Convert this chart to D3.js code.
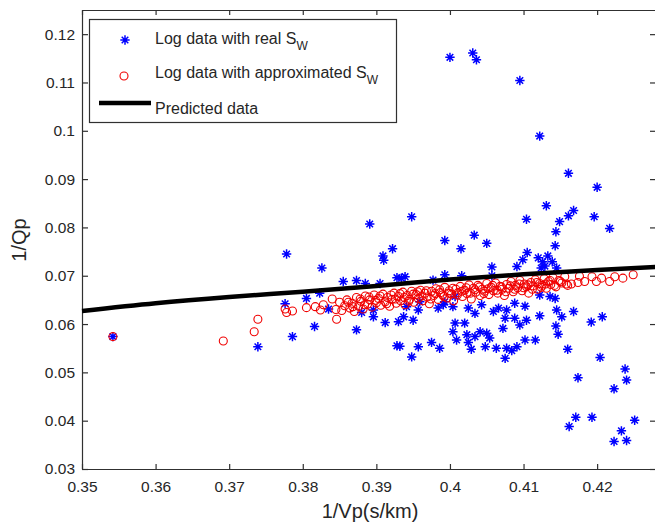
<!DOCTYPE html>
<html>
<head>
<meta charset="utf-8">
<title>1/Qp vs 1/Vp</title>
<script src="https://cdn.jsdelivr.net/npm/d3@7"></script>
<style>
  body { margin: 0; background: #fff; }
  svg { display: block; font-family: "Liberation Sans", Arial, sans-serif; }
  .axis text { fill: #262626; font-size: 15.5px; }
  .axis path, .axis line { stroke: #303030; stroke-width: 1.2; }
</style>
</head>
<body>
<div id="chart"></div>
<script>
// tick values + labels
var xTicks = [0.35, 0.36, 0.37, 0.38, 0.39, 0.40, 0.41, 0.42];
var xTickLabels = ["0.35", "0.36", "0.37", "0.38", "0.39", "0.4", "0.41", "0.42"];
var yTicks = [0.03, 0.04, 0.05, 0.06, 0.07, 0.08, 0.09, 0.10, 0.11, 0.12];
var yTickLabels = ["0.03", "0.04", "0.05", "0.06", "0.07", "0.08", "0.09", "0.1", "0.11", "0.12"];

var seriesNames = ["Log data with real S", "Log data with approximated S", "Predicted data"];

// log data with real Sw (blue stars)
var realX = [0.3542, 0.3739, 0.3776, 0.3778, 0.3786, 0.3805, 0.3816, 0.3823, 0.3826, 0.3835,
  0.3855, 0.3873, 0.3873, 0.3880, 0.3885, 0.3891, 0.3896, 0.3896, 0.3905, 0.3909,
  0.3910, 0.3912, 0.3922, 0.3928, 0.3928, 0.3930, 0.3932, 0.3934, 0.3937, 0.3939,
  0.3941, 0.3948, 0.3948, 0.3950, 0.3957, 0.3957, 0.3959, 0.3975, 0.3977, 0.3984,
  0.3986, 0.3991, 0.3993, 0.3993, 0.3993, 0.4000, 0.4004, 0.4004, 0.4007, 0.4007,
  0.4009, 0.4015, 0.4016, 0.4020, 0.4023, 0.4025, 0.4025, 0.4029, 0.4031, 0.4033,
  0.4034, 0.4034, 0.4036, 0.4041, 0.4043, 0.4048, 0.4050, 0.4050, 0.4054, 0.4057,
  0.4057, 0.4059, 0.4063, 0.4066, 0.4072, 0.4075, 0.4075, 0.4077, 0.4077, 0.4084,
  0.4088, 0.4088, 0.4091, 0.4091, 0.4095, 0.4095, 0.4099, 0.4102, 0.4102, 0.4104,
  0.4104, 0.4105, 0.4116, 0.4120, 0.4122, 0.4122, 0.4122, 0.4124, 0.4126, 0.4129,
  0.4131, 0.4133, 0.4136, 0.4139, 0.4143, 0.4143, 0.4144, 0.4144, 0.4145, 0.4145,
  0.4147, 0.4149, 0.4152, 0.4160, 0.4161, 0.4161, 0.4162, 0.4168, 0.4168, 0.4171,
  0.4174, 0.4192, 0.4193, 0.4196, 0.4200, 0.4204, 0.4207, 0.4217, 0.4223, 0.4223,
  0.4233, 0.4238, 0.4240, 0.4240, 0.4251];
var realY = [0.0574, 0.0553, 0.0642, 0.0745, 0.0574, 0.0653, 0.0595, 0.0664, 0.0716, 0.0631,
  0.0688, 0.0690, 0.0588, 0.0624, 0.0684, 0.0807, 0.0615, 0.0629, 0.0684, 0.0741,
  0.0732, 0.0603, 0.0756, 0.0696, 0.0555, 0.0605, 0.0554, 0.0695, 0.0615, 0.0698,
  0.0636, 0.0822, 0.0532, 0.0608, 0.0629, 0.0553, 0.0646, 0.0562, 0.0691, 0.0633,
  0.0550, 0.0640, 0.0773, 0.0702, 0.0646, 0.1152, 0.0636, 0.0584, 0.0602, 0.0657,
  0.0567, 0.0756, 0.0700, 0.0602, 0.0578, 0.0633, 0.0562, 0.0548, 0.1161, 0.0784,
  0.0622, 0.0574, 0.1147, 0.0584, 0.0640, 0.0553, 0.0767, 0.0581, 0.0571, 0.0718,
  0.0700, 0.0626, 0.0550, 0.0633, 0.0591, 0.0612, 0.0529, 0.0629, 0.0550, 0.0545,
  0.0643, 0.0612, 0.0553, 0.0719, 0.1104, 0.0598, 0.0733, 0.0637, 0.0567, 0.0817,
  0.0608, 0.0748, 0.0567, 0.0737, 0.0989, 0.0660, 0.0617, 0.0716, 0.0729, 0.0720,
  0.0845, 0.0741, 0.0657, 0.0729, 0.0762, 0.0653, 0.0596, 0.0791, 0.0716, 0.0629,
  0.0579, 0.0812, 0.0615, 0.0548, 0.0912, 0.0824, 0.0388, 0.0835, 0.0626, 0.0407,
  0.0489, 0.0604, 0.0407, 0.0822, 0.0883, 0.0531, 0.0615, 0.0798, 0.0466, 0.0357,
  0.0379, 0.0507, 0.0484, 0.0359, 0.0401];

// log data with approximated Sw (red circles)
var approxX = [0.3542, 0.3692, 0.3734, 0.3739, 0.3776, 0.3778, 0.3786, 0.3805, 0.3817, 0.3824,
  0.3828, 0.3846, 0.3840, 0.3845, 0.3850, 0.3853, 0.3857, 0.3860, 0.3864, 0.3867,
  0.3870, 0.3873, 0.3876, 0.3879, 0.3882, 0.3885, 0.3888, 0.3891, 0.3894, 0.3897,
  0.3900, 0.3903, 0.3906, 0.3909, 0.3912, 0.3915, 0.3918, 0.3921, 0.3924, 0.3927,
  0.3930, 0.3933, 0.3936, 0.3939, 0.3942, 0.3945, 0.3948, 0.3951, 0.3954, 0.3957,
  0.3960, 0.3963, 0.3966, 0.3969, 0.3972, 0.3975, 0.3978, 0.3981, 0.3984, 0.3987,
  0.3990, 0.3993, 0.3996, 0.3999, 0.4002, 0.4005, 0.4008, 0.4011, 0.4014, 0.4017,
  0.4020, 0.4023, 0.4026, 0.4029, 0.4032, 0.4035, 0.4038, 0.4041, 0.4044, 0.4047,
  0.4050, 0.4053, 0.4056, 0.4059, 0.4062, 0.4065, 0.4068, 0.4071, 0.4074, 0.4077,
  0.4080, 0.4083, 0.4086, 0.4089, 0.4092, 0.4095, 0.4098, 0.4101, 0.4104, 0.4107,
  0.4110, 0.4113, 0.4116, 0.4119, 0.4122, 0.4125, 0.4128, 0.4131, 0.4134, 0.4137,
  0.4140, 0.4144, 0.4148, 0.4152, 0.4156, 0.4160, 0.4165, 0.4174, 0.4176, 0.4183,
  0.4193, 0.4199, 0.4206, 0.4217, 0.4224, 0.4235, 0.4249,
  0.3862, 0.3868, 0.3878, 0.3884, 0.3890, 0.3899, 0.3905, 0.3914, 0.3920, 0.3926,
  0.3932, 0.3938, 0.3944, 0.3950, 0.3956, 0.3962, 0.3968, 0.3974, 0.3980, 0.3986,
  0.3992, 0.3998, 0.4004, 0.4010, 0.4016, 0.4022, 0.4028, 0.4034, 0.4040, 0.4046,
  0.4052, 0.4058, 0.4064, 0.4070, 0.4076, 0.4082, 0.4088, 0.4094, 0.4100, 0.4106,
  0.4112, 0.4118, 0.4124, 0.4130, 0.4136, 0.4142, 0.4150, 0.4158];
var approxY = [0.0574, 0.0565, 0.0584, 0.0610, 0.0631, 0.0624, 0.0627, 0.0634, 0.0636, 0.0629,
  0.0640, 0.0610, 0.0652, 0.0630, 0.0645, 0.0628, 0.0638, 0.0650, 0.0633, 0.0643,
  0.0626, 0.0655, 0.0637, 0.0647, 0.0631, 0.0658, 0.0641, 0.0650, 0.0635, 0.0660,
  0.0644, 0.0653, 0.0639, 0.0662, 0.0646, 0.0655, 0.0637, 0.0651, 0.0664, 0.0643,
  0.0657, 0.0648, 0.0666, 0.0640, 0.0659, 0.0651, 0.0668, 0.0645, 0.0661, 0.0653,
  0.0670, 0.0648, 0.0664, 0.0656, 0.0642, 0.0668, 0.0659, 0.0673, 0.0651, 0.0665,
  0.0660, 0.0676, 0.0654, 0.0669, 0.0662, 0.0648, 0.0672, 0.0665, 0.0678, 0.0657,
  0.0670, 0.0663, 0.0681, 0.0652, 0.0674, 0.0666, 0.0680, 0.0659, 0.0672, 0.0668,
  0.0684, 0.0661, 0.0676, 0.0669, 0.0685, 0.0664, 0.0678, 0.0672, 0.0659, 0.0682,
  0.0674, 0.0688, 0.0667, 0.0680, 0.0675, 0.0690, 0.0669, 0.0683, 0.0677, 0.0664,
  0.0686, 0.0679, 0.0692, 0.0672, 0.0684, 0.0680, 0.0694, 0.0674, 0.0688, 0.0682,
  0.0696, 0.0677, 0.0690, 0.0685, 0.0698, 0.0680, 0.0683, 0.0686, 0.0699, 0.0688,
  0.0698, 0.0688, 0.0695, 0.0688, 0.0698, 0.0695, 0.0702,
  0.0645, 0.0636, 0.0652, 0.0640, 0.0656, 0.0649, 0.0658, 0.0642, 0.0660, 0.0652,
  0.0663, 0.0655, 0.0647, 0.0662, 0.0667, 0.0658, 0.0669, 0.0652, 0.0663, 0.0671,
  0.0657, 0.0664, 0.0674, 0.0660, 0.0668, 0.0675, 0.0664, 0.0671, 0.0677, 0.0663,
  0.0673, 0.0680, 0.0670, 0.0677, 0.0667, 0.0679, 0.0672, 0.0683, 0.0675, 0.0681,
  0.0672, 0.0686, 0.0676, 0.0683, 0.0690, 0.0680, 0.0688, 0.0683];

// predicted curve
var predX = [0.35, 0.36, 0.37, 0.38, 0.39, 0.40, 0.41, 0.42, 0.43];
var predY = [0.0627, 0.0643, 0.0656, 0.0667, 0.0679, 0.0692, 0.0703, 0.0712, 0.0720];

var width = 655, height = 529;
// plot box edges (top is a reserved window prop, so prefix these)
var pLeft = 82, pRight = 656, pTop = 10, pBottom = 469;

var svg = d3.select("#chart").append("svg")
    .attr("width", width)
    .attr("height", height);

svg.append("rect").attr("width", width).attr("height", height).attr("fill", "#fff");

var x = d3.scaleLinear().domain([0.35, 0.428]).range([pLeft, pRight]);
var y = d3.scaleLinear().domain([0.03, 0.125]).range([pBottom, pTop]);

// axes, ticks pointing in
svg.append("g")
    .attr("class", "axis")
    .attr("transform", "translate(0," + pBottom + ")")
    .call(d3.axisBottom(x).tickValues(xTicks).tickSizeInner(-5).tickSizeOuter(0).tickPadding(12)
      .tickFormat(function(d, i) { return xTickLabels[i]; }));

svg.append("g")
    .attr("class", "axis")
    .attr("transform", "translate(0," + pTop + ")")
    .call(d3.axisTop(x).tickValues(xTicks).tickSizeInner(-5).tickSizeOuter(0).tickFormat(""));

svg.append("g")
    .attr("class", "axis")
    .attr("transform", "translate(" + pLeft + ",0)")
    .call(d3.axisLeft(y).tickValues(yTicks).tickSizeInner(-6).tickSizeOuter(0).tickPadding(7)
      .tickFormat(function(d, i) { return yTickLabels[i]; }));

svg.append("g")
    .attr("class", "axis")
    .attr("transform", "translate(" + pRight + ",0)")
    .call(d3.axisRight(y).tickValues(yTicks).tickSizeInner(-6).tickSizeOuter(0).tickFormat(""));

svg.selectAll(".axis .domain").attr("stroke", "#303030");

// star marker like matlab '*'
var star = "M-4.7,0H4.7M0,-4.7V4.7M-3.3,-3.3L3.3,3.3M-3.3,3.3L3.3,-3.3";

var plot = svg.append("g");

plot.selectAll(".star")
    .data(realX)
  .enter().append("path")
    .attr("class", "star")
    .attr("d", star)
    .attr("transform", function(d, i) { return "translate(" + x(d) + "," + y(realY[i]) + ")"; })
    .attr("stroke", "#0000ff")
    .attr("stroke-width", 1.5)
    .attr("fill", "none");

plot.selectAll(".circ")
    .data(approxX)
  .enter().append("circle")
    .attr("class", "circ")
    .attr("cx", function(d) { return x(d); })
    .attr("cy", function(d, i) { return y(approxY[i]); })
    .attr("r", 4)
    .attr("stroke", "#f00000")
    .attr("stroke-width", 1.1)
    .attr("fill", "none");

var line = d3.line()
    .x(function(d) { return x(d); })
    .y(function(d, i) { return y(predY[i]); })
    .curve(d3.curveMonotoneX);

plot.append("path")
    .attr("d", line(predX))
    .attr("fill", "none")
    .attr("stroke", "#000")
    .attr("stroke-width", 4.5);

// axis labels
svg.append("text")
    .attr("x", 370)
    .attr("y", 518)
    .attr("text-anchor", "middle")
    .attr("font-size", "20px")
    .attr("fill", "#262626")
    .text("1/Vp(s/km)");

svg.append("text")
    .attr("transform", "translate(26,240) rotate(-90)")
    .attr("text-anchor", "middle")
    .attr("font-size", "20px")
    .attr("fill", "#262626")
    .text("1/Qp");

// legend
var lg = svg.append("g");
lg.append("rect")
    .attr("x", 89.5).attr("y", 19.5)
    .attr("width", 307).attr("height", 103)
    .attr("fill", "#fff")
    .attr("stroke", "#303030")
    .attr("stroke-width", 1.2);

lg.append("path")
    .attr("d", star)
    .attr("transform", "translate(125,40)")
    .attr("stroke", "#0000ff").attr("stroke-width", 1.5).attr("fill", "none");
lg.append("circle")
    .attr("cx", 124).attr("cy", 76).attr("r", 4)
    .attr("stroke", "#f00000").attr("stroke-width", 1.1).attr("fill", "none");
lg.append("line")
    .attr("x1", 99).attr("x2", 151).attr("y1", 103).attr("y2", 103)
    .attr("stroke", "#000").attr("stroke-width", 4.5);

var rowsY = [44, 78, 114];
seriesNames.forEach(function(name, i) {
  var t = lg.append("text")
      .attr("x", 155)
      .attr("y", rowsY[i])
      .attr("font-size", "16px")
      .attr("fill", "#262626")
      .text(name);
  if (i < 2) {
    t.append("tspan")
      .attr("dy", 6)
      .attr("font-size", "12px")
      .text("W");
  }
});
</script>
</body>
</html>
